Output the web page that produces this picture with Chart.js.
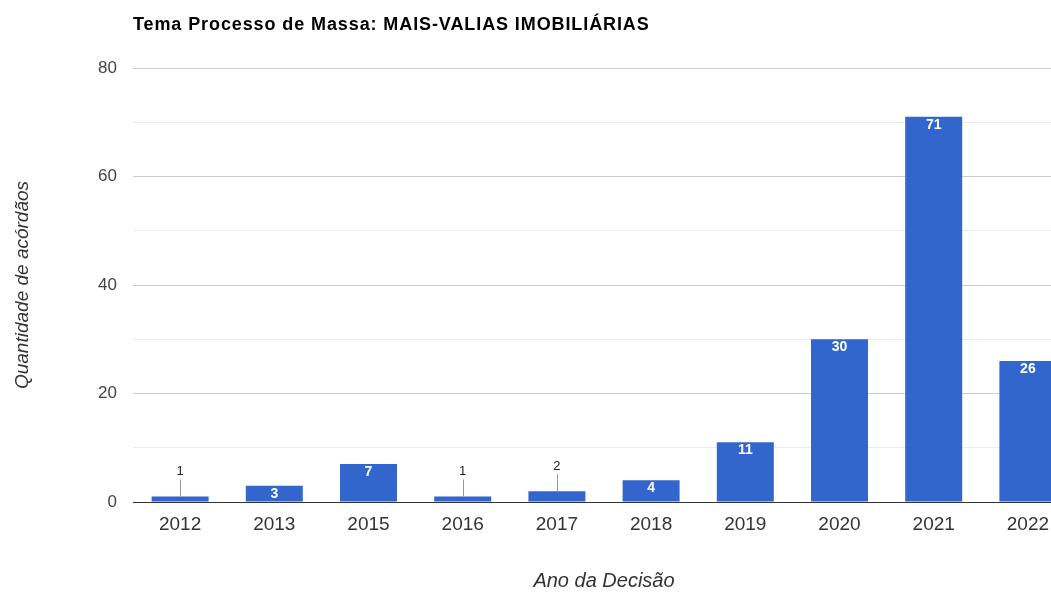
<!DOCTYPE html>
<html>
<head>
<meta charset="utf-8">
<script src="https://cdn.jsdelivr.net/npm/chart.js@4"></script>
<style>
  html, body { margin: 0; padding: 0; overflow: hidden; background: #fff; }
  #wrap { width: 1075px; height: 593px; position: relative; }
</style>
</head>
<body>
<div id="wrap"><canvas id="grafico"></canvas></div>
<script>
const anos = ['2012', '2013', '2015', '2016', '2017', '2018', '2019', '2020', '2021', '2022'];
const acordaos = [1, 3, 7, 1, 2, 4, 11, 30, 71, 26];
const yTicks = [0, 20, 40, 60, 80];
const titulo = 'Tema Processo de Massa: MAIS-VALIAS IMOBILIÁRIAS';

const fonte = "'Liberation Sans', Arial, sans-serif";

// titulo alinhado com a area do grafico
const tituloPlugin = {
  id: 'tituloPlugin',
  afterDraw(chart) {
    const c = chart.ctx;
    c.save();
    c.font = 'bold 18px ' + fonte;
    c.letterSpacing = '0.9px';
    c.fillStyle = '#000';
    c.textBaseline = 'alphabetic';
    c.textAlign = 'left';
    c.fillText(titulo, chart.chartArea.left, 30);
    c.restore();
  }
};

// rotulos das barras: dentro (branco) ou acima com haste
const rotulosPlugin = {
  id: 'rotulosPlugin',
  afterDatasetsDraw(chart) {
    const c = chart.ctx;
    const meta = chart.getDatasetMeta(0);
    c.save();
    c.textAlign = 'center';
    c.textBaseline = 'middle';
    meta.data.forEach(function (bar, i) {
      const v = acordaos[i];
      const h = bar.base - bar.y;
      if (h > 14) {
        c.font = 'bold 14px ' + fonte;
        c.fillStyle = '#fff';
        c.fillText(String(v), bar.x, bar.y + 8);
      } else {
        c.strokeStyle = '#999';
        c.lineWidth = 1;
        c.beginPath();
        c.moveTo(Math.round(bar.x) + 0.5, bar.y);
        c.lineTo(Math.round(bar.x) + 0.5, bar.y - 17);
        c.stroke();
        c.font = '13px ' + fonte;
        c.fillStyle = '#222';
        c.fillText(String(v), bar.x, bar.y - 25);
      }
    });
    c.restore();
  }
};

new Chart(document.getElementById('grafico'), {
  type: 'bar',
  data: {
    labels: anos,
    datasets: [{
      label: 'Acórdãos',
      data: acordaos,
      backgroundColor: '#3366cc',
      borderWidth: 0,
      barPercentage: 0.605,
      categoryPercentage: 1
    }]
  },
  options: {
    responsive: true,
    maintainAspectRatio: false,
    animation: false,
    devicePixelRatio: 1,
    layout: { padding: { top: 68, left: 0, right: 0, bottom: 0 } },
    plugins: {
      legend: { display: false },
      tooltip: { enabled: false }
    },
    scales: {
      x: {
        offset: true,
        grid: { display: false, drawTicks: false },
        border: { display: false },
        ticks: { color: '#333', padding: 11, font: { family: fonte, size: 19 } },
        title: {
          display: true,
          text: 'Ano da Decisão',
          color: '#333',
          padding: { top: 0, bottom: 0 },
          font: { family: fonte, size: 20, style: 'italic' }
        },
        afterFit(scale) { scale.height = 91; }
      },
      y: {
        min: 0,
        max: 80,
        grid: {
          drawTicks: false,
          color(ctx) {
            const v = ctx.tick.value;
            if (v === 0) return '#333';
            return yTicks.includes(v) ? '#cccccc' : '#ebebeb';
          }
        },
        border: { display: false },
        ticks: {
          stepSize: 10,
          padding: 16,
          color: '#444',
          font: { family: fonte, size: 17 },
          callback(v) { return yTicks.includes(v) ? v : ''; }
        },
        title: {
          display: true,
          text: 'Quantidade de acórdãos',
          color: '#333',
          padding: { top: 11, bottom: 0 },
          font: { family: fonte, size: 19, style: 'italic' }
        },
        afterFit(scale) { scale.width = 133; }
      }
    }
  },
  plugins: [tituloPlugin, rotulosPlugin]
});
</script>
</body>
</html>
